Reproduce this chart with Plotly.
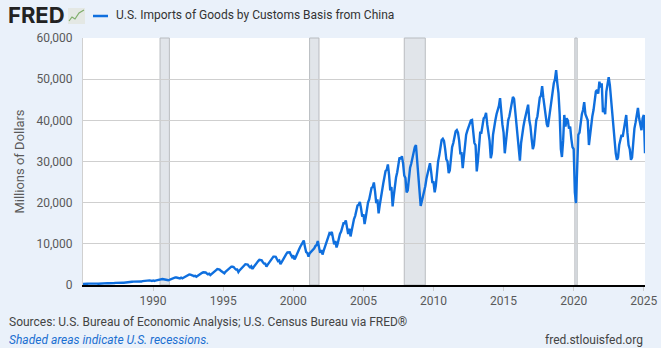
import plotly.graph_objects as go
import pandas as pd

# Monthly U.S. imports of goods from China (millions of dollars), one row per year
years = list(range(1985, 2026))
monthly_values = [
    [270, 240, 280, 300, 320, 330, 350, 360, 370, 350, 330, 300],          # 1985
    [340, 300, 330, 370, 390, 410, 430, 460, 460, 450, 420, 400],          # 1986
    [440, 390, 430, 480, 510, 540, 580, 610, 610, 600, 560, 540],          # 1987
    [600, 540, 590, 650, 690, 730, 780, 820, 830, 810, 760, 710],          # 1988
    [840, 760, 840, 930, 990, 1050, 1100, 1160, 1170, 1130, 1050, 970],    # 1989
    [1100, 980, 1070, 1160, 1250, 1330, 1410, 1470, 1460, 1410, 1330, 1250],  # 1990
    [1350, 1180, 1270, 1420, 1540, 1660, 1780, 1850, 1820, 1770, 1690, 1580],  # 1991
    [1800, 1620, 1770, 1950, 2110, 2260, 2410, 2560, 2530, 2480, 2300, 2150],  # 1992
    [2220, 1980, 2190, 2400, 2600, 2760, 2950, 3100, 3100, 3050, 2800, 2600],  # 1993
    [2750, 2420, 2650, 2950, 3150, 3400, 3620, 3850, 3850, 3750, 3450, 3250],  # 1994
    [3250, 2850, 3200, 3500, 3750, 3950, 4200, 4450, 4420, 4350, 4000, 3750],  # 1995
    [3750, 3150, 3550, 3900, 4200, 4450, 4750, 5050, 5000, 4950, 4550, 4300],  # 1996
    [4550, 3900, 4300, 4750, 5150, 5400, 5800, 6100, 6050, 6000, 5500, 5200],  # 1997
    [5200, 4500, 4900, 5350, 5800, 6200, 6550, 6900, 6900, 6850, 6300, 5800],  # 1998
    [5950, 5100, 5500, 6100, 6700, 7100, 7500, 7900, 8000, 7950, 7300, 6800],  # 1999
    [7200, 6200, 6700, 7500, 8200, 8700, 9300, 9800, 10100, 10800, 9200, 8000],  # 2000
    [7800, 6900, 7700, 8000, 8400, 8700, 8900, 9500, 9700, 10700, 9000, 7800],  # 2001
    [8500, 7400, 8300, 9300, 10300, 10700, 11700, 12600, 12400, 12900, 11200, 9900],  # 2002
    [10700, 9100, 10000, 11300, 12400, 13000, 14100, 15000, 15000, 15700, 14000, 12400],  # 2003
    [13700, 11800, 13200, 14800, 16000, 16800, 18100, 19300, 19500, 20200, 18600, 16600],  # 2004
    [17200, 14800, 16300, 18500, 20000, 20800, 22100, 23600, 23800, 24900, 22700, 19900],  # 2005
    [20800, 17400, 19300, 21500, 23500, 24600, 26100, 27700, 28000, 29300, 26700, 23000],  # 2006
    [23800, 19100, 21500, 24500, 26100, 27400, 29600, 31000, 30600, 31300, 29500, 26600],  # 2007
    [26000, 22500, 23000, 27000, 28500, 29500, 31000, 32500, 33500, 34000, 30000, 27000],  # 2008
    [24000, 19200, 20300, 21500, 23000, 24000, 25800, 27200, 28300, 29600, 27500, 25000],  # 2009
    [25000, 22500, 24000, 27500, 30000, 31500, 33800, 35200, 35500, 35000, 33000, 30500],  # 2010
    [30000, 27200, 27800, 31500, 33500, 34500, 36000, 37300, 37600, 37000, 35000, 32000],  # 2011
    [32000, 28400, 31000, 34000, 36500, 37500, 38500, 39200, 40000, 40100, 37000, 34500],  # 2012
    [34000, 27600, 30000, 35000, 37000, 37000, 38500, 40500, 40800, 41800, 39000, 37000],  # 2013
    [35000, 30800, 32000, 36500, 39000, 40000, 41500, 42500, 43500, 45400, 41000, 39000],  # 2014
    [37000, 32000, 34500, 37500, 40000, 41000, 42500, 44500, 45700, 45200, 42000, 39500],  # 2015
    [36500, 31500, 30200, 34500, 37000, 38500, 40000, 41500, 42500, 43800, 40000, 38500],  # 2016
    [35500, 33000, 34000, 37000, 40000, 41000, 43000, 45500, 46000, 48300, 45500, 43000],  # 2017
    [42000, 39000, 38400, 40500, 43500, 45000, 47500, 49000, 50000, 52200, 49000, 46600],  # 2018
    [41500, 33000, 31100, 35000, 41300, 38500, 40500, 40000, 38000, 38500, 35500, 33500],  # 2019
    [33000, 22500, 19900, 31000, 36500, 37000, 40000, 41500, 42500, 44400, 41500, 40500],  # 2020
    [40000, 34000, 36500, 40000, 41000, 42500, 44500, 47000, 47400, 46500, 49400, 48000],  # 2021
    [49000, 42000, 43000, 41500, 47000, 49000, 50500, 48500, 45000, 42000, 37600, 34500],  # 2022
    [32000, 30400, 31000, 34000, 35000, 36500, 36000, 37500, 39000, 41300, 37000, 34000],  # 2023
    [33000, 30400, 31000, 35000, 38000, 39500, 41000, 43000, 40500, 38500, 37600, 40500],  # 2024
    [41300, 32000],                                                         # 2025
]

recession_starts = ["1990-07-01", "2001-03-01", "2007-12-01", "2020-02-01"]
recession_ends = ["1991-03-01", "2001-11-01", "2009-06-01", "2020-04-01"]

x_tick_years = [1990, 1995, 2000, 2005, 2010, 2015, 2020, 2025]
y_ticks = [0, 10000, 20000, 30000, 40000, 50000, 60000]

series_name = "U.S. Imports of Goods by Customs Basis from China"
y_title = "Millions of Dollars"
source_text = "Sources: U.S. Bureau of Economic Analysis; U.S. Census Bureau via FRED®"
shade_text = "Shaded areas indicate U.S. recessions."
site_text = "fred.stlouisfed.org"

dates, values = [], []
for yr, row in zip(years, monthly_values):
    for m, v in enumerate(row):
        dates.append(pd.Timestamp(year=yr, month=m + 1, day=1))
        values.append(v)

W, H = 661, 348
L, R, T, B = 83, 645, 38, 285


def px(x):
    return (x - L) / (R - L)


def py(y):
    return (B - y) / (B - T)


fig = go.Figure()
fig.add_trace(go.Scatter(x=dates, y=values, mode="lines",
                         line=dict(color="#0f6fde", width=2.4),
                         hoverinfo="skip", showlegend=False))

shapes = []
for s, e in zip(recession_starts, recession_ends):
    shapes.append(dict(type="rect", xref="x", yref="paper", x0=s, x1=e, y0=0, y1=1,
                       fillcolor="#e1e5ea", line=dict(color="#b9bcc0", width=1),
                       layer="below"))
# legend swatch
shapes.append(dict(type="line", xref="paper", yref="paper", x0=px(93), x1=px(108),
                   y0=py(16), y1=py(16), line=dict(color="#0f6fde", width=2.5)))
# logo icon
shapes.append(dict(type="rect", xref="paper", yref="paper", x0=px(68), x1=px(85),
                   y0=py(24), y1=py(8), fillcolor="#e4e8e4", line=dict(width=0)))
shapes.append(dict(type="path", xref="paper", yref="paper",
                   path=f"M {px(69)} {py(21)} L {px(72)} {py(17)} L {px(75)} {py(19)} L {px(79)} {py(13)} L {px(84)} {py(10)}",
                   line=dict(color="#7fae6b", width=1.2)))

annotations = [
    dict(text="<b>FRED</b>", xref="paper", yref="paper", x=px(6), y=py(15),
         xanchor="left", yanchor="middle", showarrow=False,
         font=dict(family="Inter", size=22, color="#222222", weight=900)),
    dict(text=series_name, xref="paper", yref="paper", x=px(114), y=py(15),
         xanchor="left", yanchor="middle", showarrow=False,
         font=dict(family="Roboto", size=12, color="#333333")),
    dict(text=source_text, xref="paper", yref="paper", x=px(7), y=py(322),
         xanchor="left", yanchor="middle", showarrow=False,
         font=dict(family="Roboto", size=12, color="#444444")),
    dict(text="<i>" + shade_text + "</i>", xref="paper", yref="paper", x=px(7), y=py(340),
         xanchor="left", yanchor="middle", showarrow=False,
         font=dict(family="Roboto", size=12, color="#1a6fd1")),
    dict(text=site_text, xref="paper", yref="paper", x=px(645), y=py(340),
         xanchor="right", yanchor="middle", showarrow=False,
         font=dict(family="Roboto", size=12, color="#444444")),
]

fig.update_layout(
    width=W, height=H,
    margin=dict(l=L, r=W - R, t=T, b=H - B, pad=0, autoexpand=False),
    paper_bgcolor="#eaf1fa", plot_bgcolor="#ffffff",
    font=dict(family="Roboto", color="#595959", size=12),
    shapes=shapes, annotations=annotations, showlegend=False,
    xaxis=dict(range=[dates[0], dates[-1]], type="date", automargin=False,
               tickvals=[pd.Timestamp(year=y, month=1, day=1) for y in x_tick_years],
               ticktext=[str(y) for y in x_tick_years],
               showgrid=False, zeroline=False,
               showline=True, linecolor="#000000", linewidth=2,
               ticks="outside", ticklen=4, tickcolor="#cccccc",
               tickfont=dict(size=12, color="#595959")),
    yaxis=dict(range=[0, 60000], tickvals=y_ticks, tickformat=",", automargin=False,
               showgrid=True, gridcolor="#cfcfcf", gridwidth=1,
               zeroline=False, showline=True, linecolor="#d0d0d0", linewidth=1,
               mirror=False, ticks="", ticklabelstandoff=7,
               tickfont=dict(size=12, color="#595959"),
               title=dict(text=y_title, standoff=8,
                          font=dict(size=13, color="#595959"))),
)

fig.write_html("out.html")
